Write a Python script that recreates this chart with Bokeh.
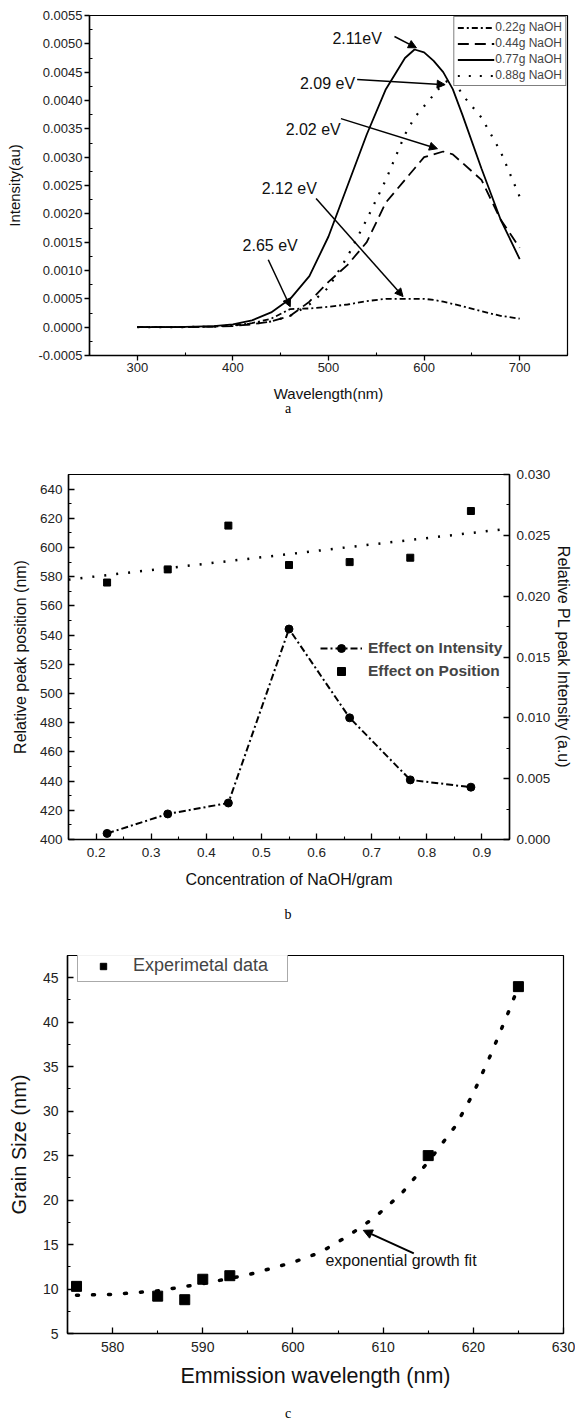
from bokeh.plotting import figure
from bokeh.models import (Range1d, LinearAxis, FixedTicker, PrintfTickFormatter, Label, Div,
                          Arrow, NormalHead, Legend, LegendItem)
from bokeh.embed import file_html
from bokeh.resources import INLINE

FONT = "Liberation Sans"
SERIF = "Liberation Serif"

# ---------------- Panel a data ----------------
wavelength = [300, 340, 380, 400, 420, 440, 460, 480, 500, 520, 540, 560, 580, 590, 600, 610, 620, 630, 640,
              660, 680, 700]
int_022 = [0, 0, 0.00001, 0.00003, 0.00007, 0.00015, 0.00032, 0.00033, 0.00036, 0.0004, 0.00046, 0.0005, 0.0005,
           0.0005, 0.0005, 0.00048, 0.00045, 0.00041, 0.00037, 0.00028, 0.0002, 0.00015]
int_044 = [0, 0, 0.00001, 0.00002, 0.00005, 0.0001, 0.0002, 0.00045, 0.0008, 0.0011, 0.0015, 0.0022, 0.0026,
           0.0028, 0.0030, 0.00305, 0.0031, 0.00305, 0.0029, 0.0026, 0.0019, 0.0014]
int_077 = [0, 0, 0.00002, 0.00005, 0.00012, 0.00026, 0.0005, 0.0009, 0.0016, 0.0025, 0.0034, 0.0042, 0.00475,
           0.0049, 0.00485, 0.0047, 0.0045, 0.0042, 0.00375, 0.0028, 0.0019, 0.0012]
int_088 = [0, 0, 0.00001, 0.00003, 0.00006, 0.0001, 0.0002, 0.0004, 0.0007, 0.00125, 0.0019, 0.0026, 0.0034,
           0.0037, 0.0039, 0.0041, 0.0043, 0.0044, 0.0041, 0.0037, 0.0031, 0.0023]
series_a_labels = ["0.22g NaOH", "0.44g NaOH", "0.77g NaOH", "0.88g NaOH"]

ann_a_text = ["2.11eV", "2.09 eV", "2.02 eV", "2.12 eV", "2.65 eV"]
ann_a_x = [530, 499, 484, 459, 439]
ann_a_y = [0.0051, 0.0043, 0.00349, 0.00245, 0.00144]
arr_a_x0 = [569, 530, 513, 487, 437]
arr_a_y0 = [0.00513, 0.00437, 0.00368, 0.00227, 0.00119]
arr_a_x1 = [592, 622, 614, 578, 460]
arr_a_y1 = [0.00493, 0.00428, 0.00315, 0.00054, 0.00036]

# ---------------- Panel b data ----------------
conc = [0.22, 0.33, 0.44, 0.55, 0.66, 0.77, 0.88]
peak_pos = [576, 585, 615, 588, 590, 593, 625]
intensity = [0.0005, 0.0021, 0.0030, 0.0173, 0.0100, 0.0049, 0.0043]
fit_conc = [0.15, 0.95]
fit_pos = [578, 613]

# ---------------- Panel c data ----------------
wl_c = [576, 585, 588, 590, 593, 615, 625]
grain = [10.3, 9.2, 8.8, 11.1, 11.5, 25.0, 44.0]
fit_wl = [576, 580, 585, 590, 595, 600, 603, 606, 609, 612, 615, 618, 620, 622, 624, 625]
fit_grain = [9.3, 9.4, 9.8, 10.6, 11.6, 13.0, 14.1, 15.9, 18.0, 20.7, 24.3, 28.3, 32.0, 36.5, 41.4, 44.0]


def style_axis(ax, tick_size, label_size, maj_in, maj_out, min_in, min_out, standoff, label_standoff):
    ax.axis_line_color = "black"
    ax.axis_line_width = 1.5
    ax.major_tick_line_color = "black"
    ax.minor_tick_line_color = "black"
    ax.major_tick_line_width = 1.3
    ax.minor_tick_line_width = 1.1
    ax.major_tick_in = maj_in
    ax.major_tick_out = maj_out
    ax.minor_tick_in = min_in
    ax.minor_tick_out = min_out
    ax.major_label_text_font = FONT
    ax.major_label_text_font_size = tick_size
    ax.major_label_text_color = "#222222"
    ax.major_label_standoff = standoff
    ax.axis_label_text_font = FONT
    ax.axis_label_text_font_style = "normal"
    ax.axis_label_text_font_size = label_size
    ax.axis_label_text_color = "#111111"
    ax.axis_label_standoff = label_standoff


def base_fig(w, h, xr, yr, left, right, top, bottom):
    p = figure(width=w, height=h, x_range=Range1d(*xr), y_range=Range1d(*yr),
               output_backend="svg", toolbar_location=None,
               min_border_left=left, min_border_right=right,
               min_border_top=top, min_border_bottom=bottom)
    p.grid.visible = False
    p.outline_line_color = "black"
    p.outline_line_width = 1.2
    p.outline_line_alpha = 1.0
    p.background_fill_color = "white"
    p.border_fill_color = "white"
    return p


def caption(text, cx, cy):
    return Div(text=text, width=40, height=16,
               styles={"position": "absolute", "left": f"{cx - 20}px", "top": f"{cy - 8}px",
                       "font-family": SERIF, "font-size": "14px", "line-height": "16px",
                       "text-align": "center", "color": "black"})


W = 575

# ================= Panel a =================
pa = base_fig(W, 430, (250, 750), (-0.0005, 0.0055), 89, 8, 15, 75)
pa.xaxis.axis_label = "Wavelength(nm)"
pa.yaxis.axis_label = "Intensity(au)"
pa.xaxis.ticker = FixedTicker(ticks=[300, 400, 500, 600, 700], minor_ticks=[250, 350, 450, 550, 650, 750])
pa.yaxis.ticker = FixedTicker(ticks=[round(-0.0005 + 0.0005 * i, 4) for i in range(13)],
                              minor_ticks=[round(-0.00025 + 0.0005 * i, 5) for i in range(12)])
pa.yaxis.formatter = PrintfTickFormatter(format="%.4f")
style_axis(pa.xaxis[0], "13px", "15px", 0, 5, 3, 0, 2, 10)
style_axis(pa.yaxis[0], "13px", "15px", 0, 5, 3, 0, 2, 12)

ra1 = pa.line(wavelength, int_022, line_color="black", line_width=1.8, line_dash="6 3 2 3")
ra2 = pa.line(wavelength, int_044, line_color="black", line_width=1.8, line_dash="11 6")
ra3 = pa.line(wavelength, int_077, line_color="black", line_width=1.8)
ra4 = pa.line(wavelength, int_088, line_color="black", line_width=2.2, line_dash="2 9")

leg_a = Legend(items=[LegendItem(label=lab, renderers=[r]) for lab, r in
                      zip(series_a_labels, [ra1, ra2, ra3, ra4])],
               location="top_right", margin=1, padding=3, spacing=2,
               glyph_width=37, glyph_height=13, label_height=13, label_standoff=1,
               label_text_font=FONT, label_text_font_size="12px",
               border_line_color="black", border_line_width=1, background_fill_alpha=1)
pa.add_layout(leg_a)

for t, x, y in zip(ann_a_text, ann_a_x, ann_a_y):
    pa.add_layout(Label(x=x, y=y, text=t, text_align="center", text_baseline="middle",
                        text_font=FONT, text_font_size="16px", text_color="#111111"))
for x0, y0, x1, y1 in zip(arr_a_x0, arr_a_y0, arr_a_x1, arr_a_y1):
    pa.add_layout(Arrow(end=NormalHead(size=8, fill_color="black", line_color="black"),
                        x_start=x0, y_start=y0, x_end=x1, y_end=y1,
                        line_color="black", line_width=1.5))

# ================= Panel b =================
pb = base_fig(W, 500, (0.15, 0.95), (400, 650), 68, 63, 44, 91)
pb.extra_y_ranges = {"inten": Range1d(0, 0.03)}
ax_r = LinearAxis(y_range_name="inten", axis_label="Relative PL peak Intensity (a.u)")
pb.add_layout(ax_r, "right")
pb.xaxis[0].axis_label = "Concentration of NaOH/gram"
pb.yaxis[0].axis_label = "Relative peak position (nm)"
pb.xaxis[0].ticker = FixedTicker(ticks=[0.2, 0.3, 0.4, 0.5, 0.6, 0.7, 0.8, 0.9],
                                 minor_ticks=[0.15, 0.25, 0.35, 0.45, 0.55, 0.65, 0.75, 0.85, 0.95])
pb.xaxis[0].formatter = PrintfTickFormatter(format="%.1f")
pb.yaxis[0].ticker = FixedTicker(ticks=list(range(400, 641, 20)), minor_ticks=list(range(410, 651, 20)))
ax_r.ticker = FixedTicker(ticks=[0.0, 0.005, 0.01, 0.015, 0.02, 0.025, 0.03],
                          minor_ticks=[0.0025, 0.0075, 0.0125, 0.0175, 0.0225, 0.0275])
ax_r.formatter = PrintfTickFormatter(format="%.3f")
style_axis(pb.xaxis[0], "13.5px", "16px", 6, 0, 3, 0, 8, 11)
style_axis(pb.yaxis[0], "13.5px", "16px", 6, 0, 3, 0, 6, 8)
style_axis(ax_r, "13.5px", "16px", 6, 0, 3, 0, 7, 2)

pb.line(fit_conc, fit_pos, line_color="black", line_width=2.5, line_dash="2 10")
rb_sq = pb.scatter(conc, peak_pos, marker="square", size=7, color="black")
rb_line = pb.line(conc, intensity, y_range_name="inten", line_color="black", line_width=2,
                  line_dash="7 3 2 3")
rb_circ = pb.scatter(conc, intensity, y_range_name="inten", marker="circle", size=8, color="black")

leg_b = Legend(items=[LegendItem(label="Effect on Intensity", renderers=[rb_line, rb_circ]),
                      LegendItem(label="Effect on Position", renderers=[rb_sq])],
               location=(252, 158), padding=0, spacing=3, margin=0,
               glyph_width=42, glyph_height=20, label_height=20, label_standoff=6,
               label_text_font=FONT, label_text_font_size="15.5px", label_text_font_style="bold",
               border_line_alpha=0, background_fill_alpha=0)
pb.add_layout(leg_b)

# ================= Panel c =================
pc = base_fig(W, 489, (575, 630), (5, 47.5), 67, 12, 25, 86)
pc.xaxis.axis_label = "Emmission wavelength (nm)"
pc.yaxis.axis_label = "Grain Size (nm)"
pc.xaxis.ticker = FixedTicker(ticks=[580, 590, 600, 610, 620, 630], minor_ticks=[575, 585, 595, 605, 615, 625])
pc.yaxis.ticker = FixedTicker(ticks=[5, 10, 15, 20, 25, 30, 35, 40, 45],
                              minor_ticks=[7.5, 12.5, 17.5, 22.5, 27.5, 32.5, 37.5, 42.5, 47.5])
style_axis(pc.xaxis[0], "14px", "21.5px", 6, 0, 3, 0, 8, 9)
style_axis(pc.yaxis[0], "14px", "20px", 6, 0, 3, 0, 9, 10)

pc.line(fit_wl, fit_grain, line_color="black", line_width=3.5, line_dash="2 14", line_cap="round")
rc_sq = pc.scatter(wl_c, grain, marker="square", size=10, color="black")

leg_c = Legend(items=[LegendItem(label="Experimetal data", renderers=[rc_sq])],
               location=(10, 351), padding=5, spacing=0, margin=0,
               glyph_width=40, glyph_height=16, label_height=16, label_standoff=10, label_width=149,
               label_text_font=FONT, label_text_font_size="18px",
               border_line_color="#555555", border_line_width=1, background_fill_color="white")
pc.add_layout(leg_c)

pc.add_layout(Label(x=603.6, y=13.2, text="exponential growth fit", text_align="left",
                    text_baseline="middle", text_font=FONT, text_font_size="16px", text_color="#111111"))
pc.add_layout(Arrow(end=NormalHead(size=9, fill_color="black", line_color="black"),
                    x_start=613.4, y_start=14.0, x_end=607.8, y_end=16.6,
                    line_color="black", line_width=2))

cap_a = caption("a", 283, 404)
cap_b = caption("b", 283, 910)
cap_c = caption("c", 283, 1409)

open("out.html", "w").write(file_html([pa, pb, pc, cap_a, cap_b, cap_c], INLINE))
